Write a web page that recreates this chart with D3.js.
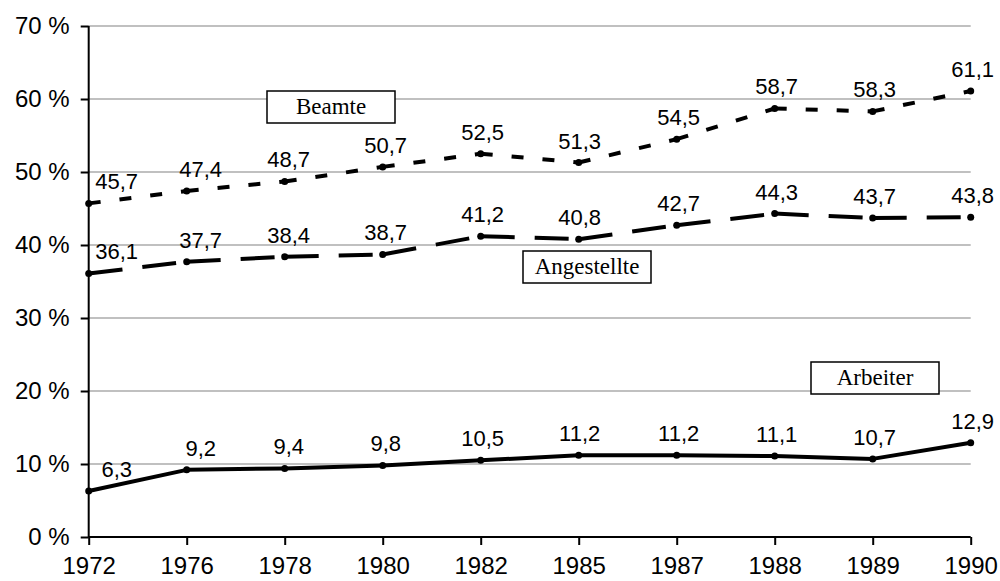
<!DOCTYPE html>
<html>
<head>
<meta charset="utf-8">
<script src="https://cdn.jsdelivr.net/npm/d3@7"></script>
<style>
  html, body { margin: 0; padding: 0; background: #fff; }
  svg { display: block; }
</style>
</head>
<body>
<svg id="chart" width="1000" height="581"></svg>
<script>
const years = ["1972", "1976", "1978", "1980", "1982", "1985", "1987", "1988", "1989", "1990"];
const beamte = [45.7, 47.4, 48.7, 50.7, 52.5, 51.3, 54.5, 58.7, 58.3, 61.1];
const angestellte = [36.1, 37.7, 38.4, 38.7, 41.2, 40.8, 42.7, 44.3, 43.7, 43.8];
const arbeiter = [6.3, 9.2, 9.4, 9.8, 10.5, 11.2, 11.2, 11.1, 10.7, 12.9];
const yTicks = [0, 10, 20, 30, 40, 50, 60, 70];
const seriesNames = ["Beamte", "Angestellte", "Arbeiter"];

// layout (not data)
const labelDx = [28, 14, 4, 3, 2, 1, 2, 2, 2, 2];
const legendPos = [
  { x: 267, y: 91 },
  { x: 523, y: 251 },
  { x: 811, y: 362 }
];
const dashes = ["12,19", "34,20", null];

const svg = d3.select("#chart");
const x = d3.scalePoint().domain(years).range([88.7, 970.7]);
const y = d3.scaleLinear().domain([0, 70]).range([537, 26]);

const fmt = v => v.toFixed(1).replace(".", ",");
const sans = "Liberation Sans, Arial, sans-serif";

// gridlines
svg.append("g")
  .selectAll("line")
  .data(yTicks.filter(t => t > 0))
  .join("line")
  .attr("x1", x.range()[0]).attr("x2", x.range()[1])
  .attr("y1", d => y(d)).attr("y2", d => y(d))
  .attr("stroke", "#c0c0c0").attr("stroke-width", 2);

// y axis
const yAxis = d3.axisLeft(y).tickValues(yTicks).tickSize(8).tickPadding(11)
  .tickFormat(d => d + " %");
const yg = svg.append("g").attr("transform", `translate(${x.range()[0]},0)`).call(yAxis);
yg.select(".domain").attr("stroke", "#000").attr("stroke-width", 2).attr("d", `M0,${y(70)}V${y(0)}`);
yg.selectAll(".tick line").attr("stroke", "#000").attr("stroke-width", 2);
yg.selectAll(".tick text").attr("font-family", sans)
  .attr("font-size", 24).attr("fill", "#000");

// x axis
const xAxis = d3.axisBottom(x).tickSize(8).tickPadding(12);
const xg = svg.append("g").attr("transform", `translate(0,${y(0)})`).call(xAxis);
xg.select(".domain").attr("stroke", "#000").attr("stroke-width", 2).attr("d", `M${x.range()[0]},0H${x.range()[1]}`);
xg.selectAll(".tick line").attr("stroke", "#000").attr("stroke-width", 2);
xg.selectAll(".tick text").attr("font-family", sans)
  .attr("font-size", 24).attr("fill", "#000");

// series
const allSeries = [beamte, angestellte, arbeiter];
const segLine = d3.line().x(p => x(p[0])).y(p => y(p[1]));

allSeries.forEach((vals, s) => {
  const g = svg.append("g");
  const seg = d3.range(vals.length - 1).map(i => [[years[i], vals[i]], [years[i + 1], vals[i + 1]]]);
  g.selectAll("path.seg")
    .data(seg)
    .join("path")
    .attr("class", "seg")
    .attr("d", d => segLine(d))
    .attr("fill", "none")
    .attr("stroke", "#000")
    .attr("stroke-width", 4)
    .attr("stroke-dasharray", dashes[s]);
  g.selectAll("circle")
    .data(vals)
    .join("circle")
    .attr("cx", (d, i) => x(years[i]))
    .attr("cy", d => y(d))
    .attr("r", 3.5)
    .attr("fill", "#000");
  g.selectAll("text")
    .data(vals)
    .join("text")
    .attr("x", (d, i) => x(years[i]) + labelDx[i])
    .attr("y", d => y(d) - 14)
    .attr("text-anchor", "middle")
    .attr("font-family", sans)
    .attr("font-size", 22)
    .attr("fill", "#000")
    .text(d => fmt(d));
});

// legend boxes
seriesNames.forEach((name, s) => {
  const p = legendPos[s];
  const g = svg.append("g").attr("transform", `translate(${p.x},${p.y})`);
  g.append("rect").attr("width", 128).attr("height", 32)
    .attr("fill", "#fff").attr("stroke", "#000").attr("stroke-width", 1.5);
  g.append("text").attr("x", 64).attr("y", 23).attr("text-anchor", "middle")
    .attr("font-family", "Liberation Serif, Times New Roman, serif")
    .attr("font-size", 23).attr("fill", "#000").text(name);
});
</script>
</body>
</html>
